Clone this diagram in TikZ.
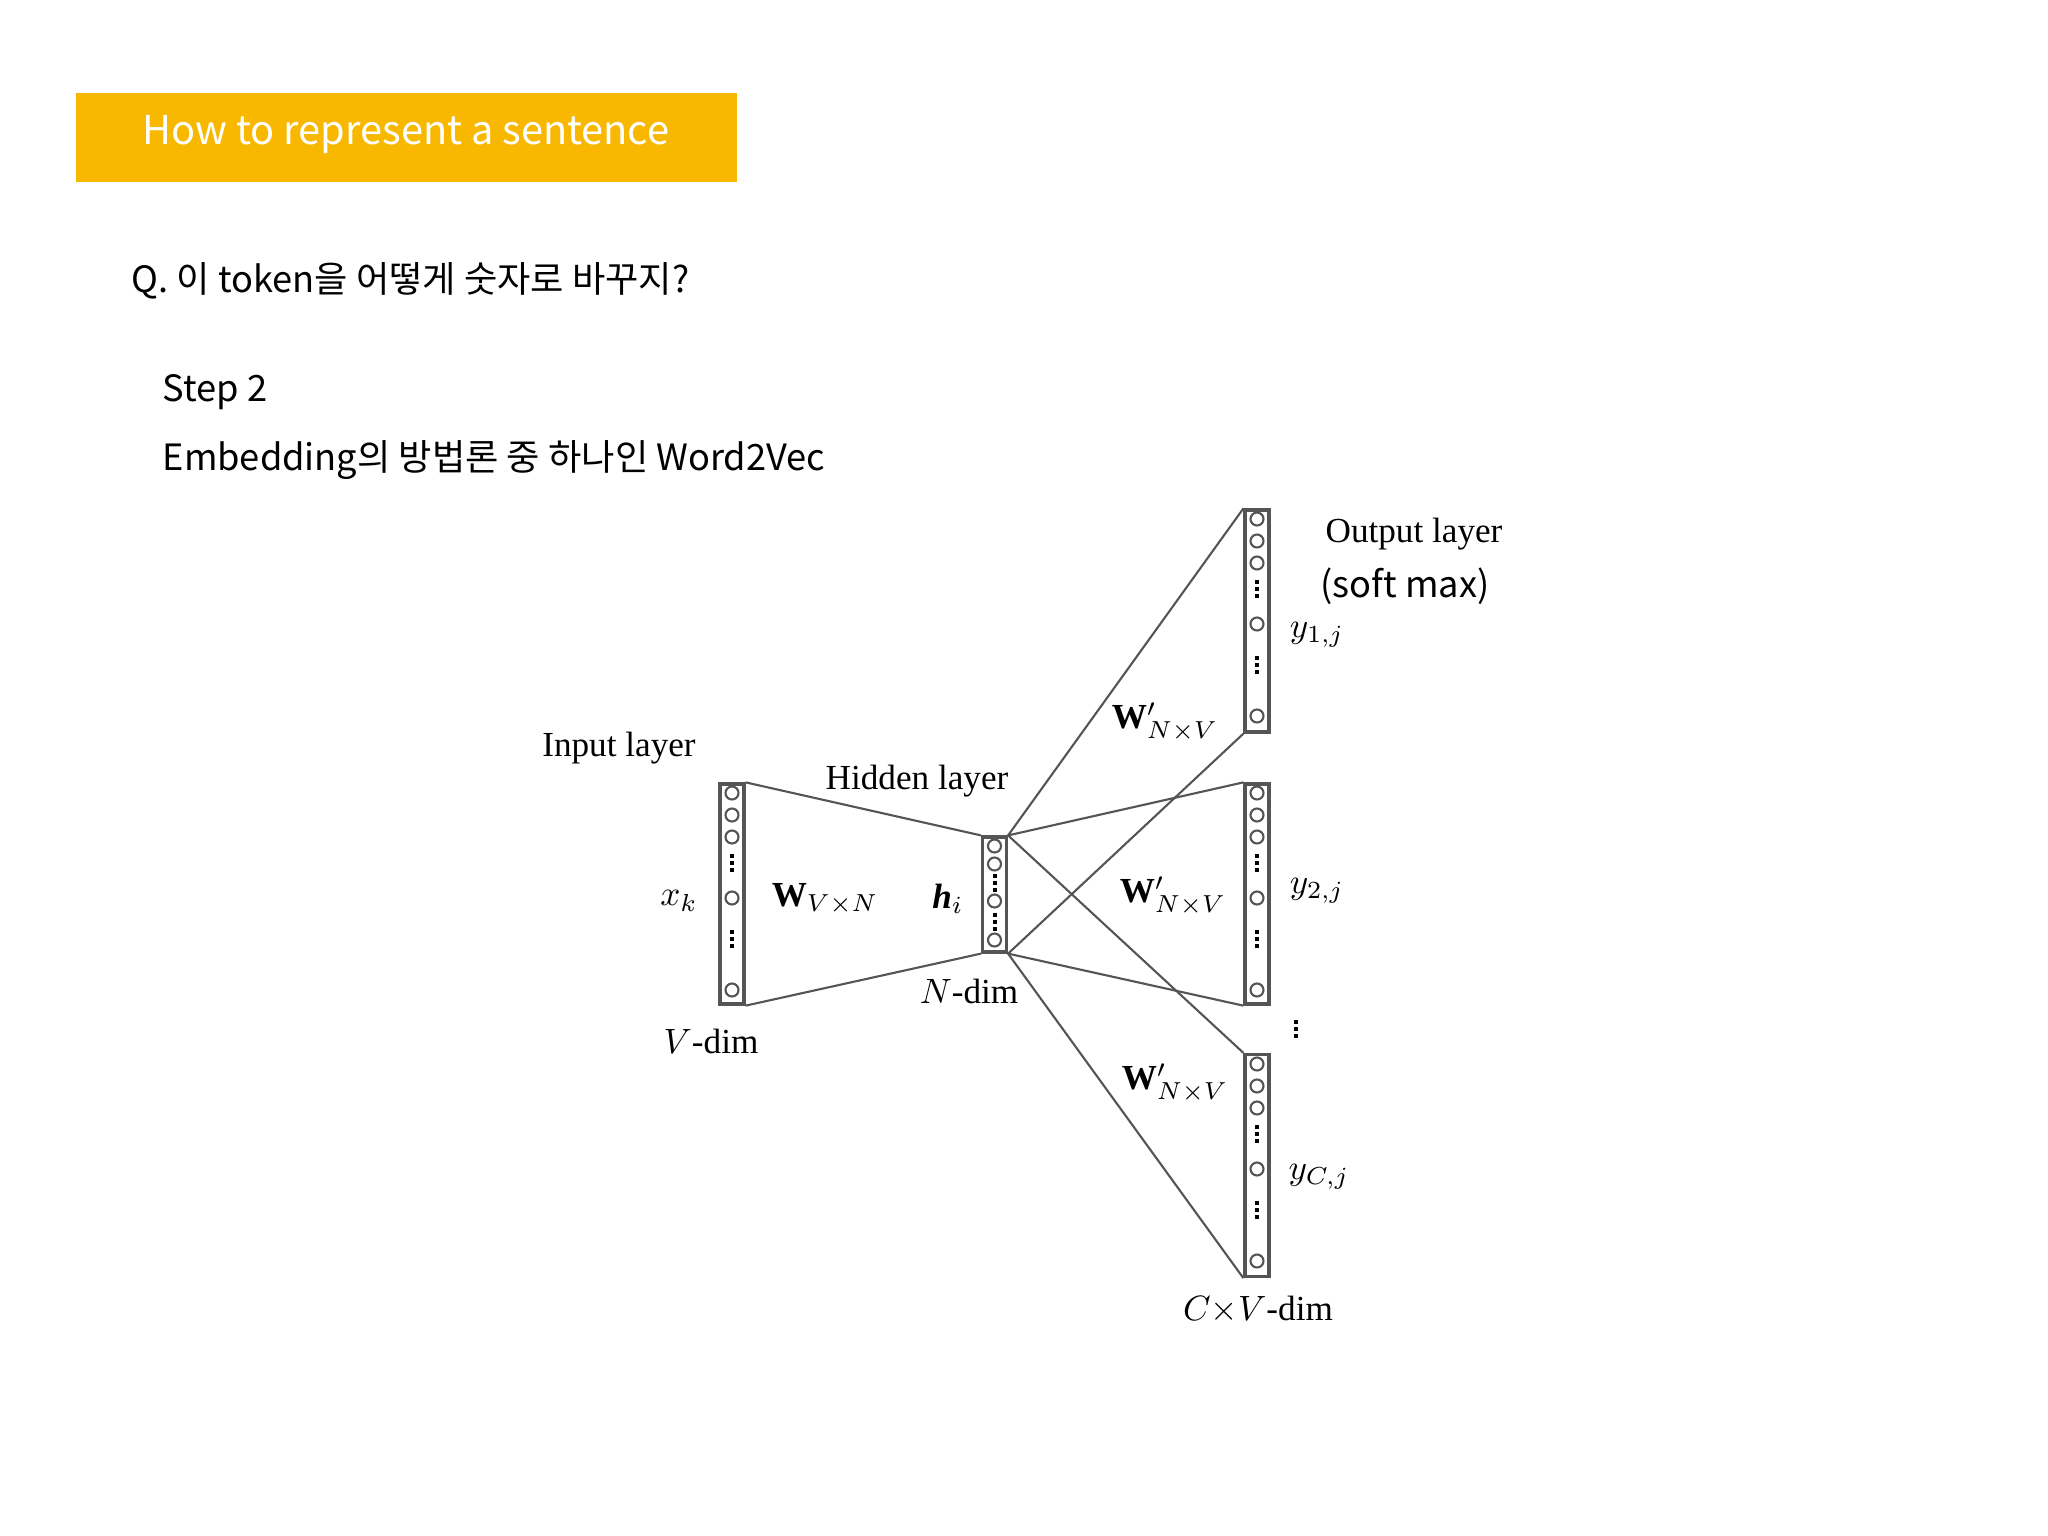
\documentclass[tikz,border=0pt]{standalone}
\usepackage{fontspec}
\setmainfont{Liberation Serif}
\newfontfamily\kr{Noto Sans CJK KR}
\definecolor{banner}{HTML}{F9B800}
\definecolor{ln}{HTML}{555555}
\tikzset{
 col/.style={draw=ln,line width=0.9pt,minimum width=0.24cm,inner sep=0pt},
 conn/.style={draw=ln,line width=0.6pt},
 lab/.style={font=\fontsize{10}{12}\selectfont,inner sep=0pt},
 ko/.style={font=\kr\fontsize{10.3}{12}\selectfont,anchor=west,inner sep=0pt},
}
\newcommand{\mycirc}[2]{\draw[ln,line width=0.6pt] (#1,#2) circle (6.5);}
\newcommand{\mydots}[2]{\foreach \d in {-7,0,7}{\fill[black] (#1-2,#2+\d-2) rectangle (#1+2,#2+\d+2);}}
\begin{document}
\begin{tikzpicture}[x=0.01cm,y=-0.01cm]
\useasboundingbox (0,0) rectangle (2048,1536);
\fill[banner] (76,93) rectangle (737,182);
\node[font=\kr\fontsize{11.3}{13}\selectfont,text=white] (title) at (406,134) {How to represent a sentence};
\node[ko] (q) at (131,281) {Q. 이 token을 어떻게 숫자로 바꾸지?};
\node[ko] (s) at (162,392) {Step 2};
\node[ko] (e) at (162,460) {Embedding의 방법론 중 하나인 Word2Vec};
% columns
\node[col,minimum height=2.2cm] (inp) at (732,894) {};
\node[col,minimum height=1.15cm] (hid) at (994.5,894.5) {};
\node[col,minimum height=2.22cm] (o1) at (1257,621) {};
\node[col,minimum height=2.2cm] (o2) at (1257,894) {};
\node[col,minimum height=2.22cm] (o3) at (1257,1165.5) {};
% circles
\foreach \cx/\top in {732/784,1257/510,1257/784,1257/1055}{
 \foreach \o in {9,31,53,114,206}{\mycirc{\cx}{\top+\o}}
 \mydots{\cx}{\top+79}\mydots{\cx}{\top+155}}
\foreach \o in {9,27,64,103}{\mycirc{994.5}{837+\o}}
\mydots{994.5}{837+46}\mydots{994.5}{837+85}
% connectors
\draw[conn] (inp.north east) -- (hid.north west);
\draw[conn] (inp.south east) -- (hid.south west);
\foreach \o in {o1,o2,o3}{
 \draw[conn] (hid.north east) -- (\o.north west);
 \draw[conn] (hid.south east) -- (\o.south west);}
% labels
\node[lab] (il) at (619,748) {Input layer};
\node[lab] (hl) at (917,781) {Hidden layer};
\node[lab] (xk) at (679,901) {$x_k$};
\node[lab] (w) at (825,899) {$\mathbf{W}_{V\times N}$};
\node[lab] (hi) at (948,899) {\textbf{\textit{h}}$_i$};
\node[lab] (nd) at (969,991) {$N$-dim};
\node[lab] (vd) at (711,1041) {$V$-dim};
\node[lab] (ol) at (1414,534) {Output layer};
\node[font=\kr\fontsize{10.3}{12}\selectfont,inner sep=0pt] (sm) at (1405,586) {(soft max)};
\node[lab] (y1) at (1317,635) {$y_{1,j}$};
\node[lab] (w1) at (1165,722) {$\mathbf{W}'_{N\times V}$};
\node[lab] (w2) at (1173,896) {$\mathbf{W}'_{N\times V}$};
\node[lab] (y2) at (1317,891) {$y_{2,j}$};
\node[lab] (w3) at (1175,1083) {$\mathbf{W}'_{N\times V}$};
\node[lab] (yc) at (1319,1177) {$y_{C,j}$};
\node[lab] (cv) at (1258,1310) {$C{\times}V$-dim};
\mydots{1296}{1029}
\end{tikzpicture}
\end{document}
